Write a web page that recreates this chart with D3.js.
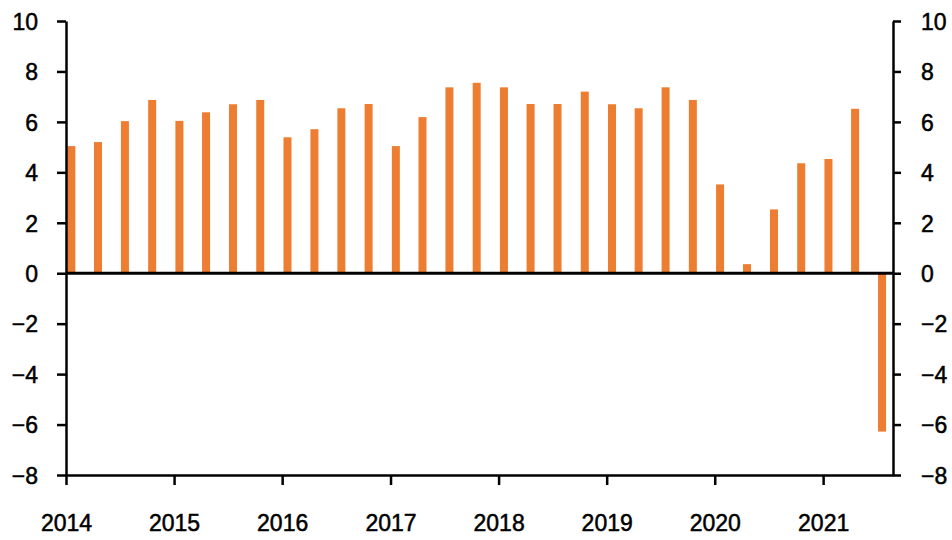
<!DOCTYPE html>
<html>
<head>
<meta charset="utf-8">
<script src="https://cdn.jsdelivr.net/npm/d3@7"></script>
<style>
  html, body { margin: 0; padding: 0; background: #fff; }
  svg text { font-family: "Liberation Sans", Arial, Helvetica, sans-serif; fill: #000; }
</style>
</head>
<body>
<svg id="chart" width="952" height="540"></svg>
<script>
// quarterly values, 2014Q1 .. 2021Q3
const quarters = [
  "2014Q1","2014Q2","2014Q3","2014Q4",
  "2015Q1","2015Q2","2015Q3","2015Q4",
  "2016Q1","2016Q2","2016Q3","2016Q4",
  "2017Q1","2017Q2","2017Q3","2017Q4",
  "2018Q1","2018Q2","2018Q3","2018Q4",
  "2019Q1","2019Q2","2019Q3","2019Q4",
  "2020Q1","2020Q2","2020Q3","2020Q4",
  "2021Q1","2021Q2","2021Q3"
];
const values = [
  5.04, 5.2, 6.03, 6.87,
  6.04, 6.38, 6.7, 6.87,
  5.39, 5.71, 6.54, 6.71,
  5.04, 6.19, 7.37, 7.55,
  7.37, 6.71, 6.71, 7.2,
  6.7, 6.54, 7.37, 6.87,
  3.52, 0.36, 2.53, 4.36,
  4.53, 6.52, -6.28
];
const yTicks = [-8, -6, -4, -2, 0, 2, 4, 6, 8, 10];
const yearTicks = [2014, 2015, 2016, 2017, 2018, 2019, 2020, 2021];

const svg = d3.select("#chart");
const mLeft = 66, mRight = 893, mTop = 21, mBottom = 475;
const fontSize = 23;

// quarter label -> date of quarter start
const toDate = q => new Date(+q.slice(0, 4), (+q.slice(5) - 1) * 3, 1);
const data = quarters.map((q, i) => ({ date: toDate(q), value: values[i] }));

const x = d3.scaleTime()
  .domain([new Date(2014, 0, 1), new Date(2021, 7, 25)])
  .range([mLeft, mRight]);

const y = d3.scaleLinear()
  .domain([-8, 10])
  .range([mBottom, mTop]);

const barW = 8;

// bars
svg.append("g")
  .selectAll("rect")
  .data(data)
  .join("rect")
  .attr("x", d => x(d3.timeDay.offset(d.date, 18)) - barW / 2)
  .attr("width", barW)
  .attr("y", d => y(Math.max(0, d.value)))
  .attr("height", d => Math.abs(y(d.value) - y(0)))
  .attr("fill", "#ED7D31");

// zero line
svg.append("line")
  .attr("x1", mLeft).attr("x2", mRight)
  .attr("y1", y(0)).attr("y2", y(0))
  .attr("stroke", "#000")
  .attr("stroke-width", 3);

// left axis
const gL = svg.append("g")
  .attr("transform", `translate(${mLeft},0)`)
  .call(d3.axisLeft(y).tickValues(yTicks).tickSize(9).tickSizeOuter(0).tickPadding(19));

// right axis
const gR = svg.append("g")
  .attr("transform", `translate(${mRight},0)`)
  .call(d3.axisRight(y).tickValues(yTicks).tickSize(8).tickSizeOuter(0).tickPadding(20));

// bottom axis
const gB = svg.append("g")
  .attr("transform", `translate(0,${mBottom})`)
  .call(d3.axisBottom(x)
    .tickValues(yearTicks.map(yr => new Date(yr, 0, 1)))
    .tickFormat(d3.timeFormat("%Y"))
    .tickSize(10).tickSizeOuter(0).tickPadding(30));

[gL, gR, gB].forEach(g => {
  g.select(".domain").attr("stroke", "#000").attr("stroke-width", 2.5);
  g.selectAll(".tick line").attr("stroke", "#000").attr("stroke-width", 2.5);
  g.selectAll(".tick text")
    .attr("font-size", fontSize)
    .attr("fill", "#000")
    .attr("stroke", "#000")
    .attr("stroke-width", 0.5);
});
gL.selectAll(".tick text").attr("dy", "0.36em");
gR.selectAll(".tick text").attr("dy", "0.36em");
</script>
</body>
</html>
